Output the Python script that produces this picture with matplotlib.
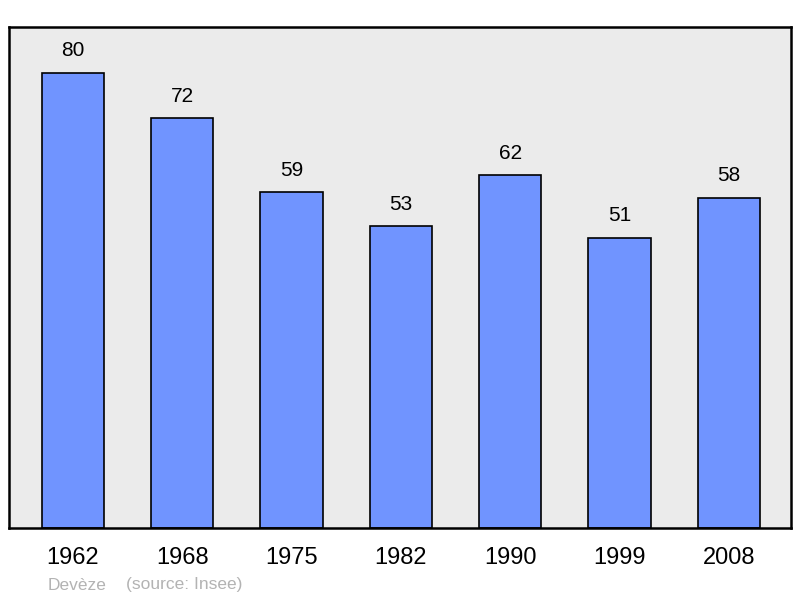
import matplotlib.pyplot as plt

years = ["1962", "1968", "1975", "1982", "1990", "1999", "2008"]
population = [80, 72, 59, 53, 62, 51, 58]

plt.rcParams["font.family"] = ["Liberation Sans", "DejaVu Sans"]

fig = plt.figure(figsize=(8, 5.98), dpi=100)
ax = fig.add_axes([9 / 800, 1 - 528 / 598, 782 / 800, 501 / 598])
ax.set_facecolor("#ebebeb")

x = range(len(years))
bars = ax.bar(x, population, width=0.57, color="#7094ff", edgecolor="black", linewidth=1.2, zorder=2)

for xi, v in zip(x, population):
    ax.annotate(str(v), (xi, v), xytext=(0, 22), textcoords="offset pixels",
                ha="center", va="center", fontsize=15)

ax.set_xlim(-0.585, 6.57)
ax.set_ylim(0, 88)
ax.set_xticks(list(x))
ax.set_xticklabels(years, fontsize=17)
ax.tick_params(axis="x", length=0, pad=14)
ax.set_yticks([])
for s in ax.spines.values():
    s.set_linewidth(1.8)

fig.text(48 / 800, 1 - 585 / 598, "Devèze", color="#b3b3b3", fontsize=12.5, va="center")
fig.text(126 / 800, 1 - 585 / 598, "(source: Insee)", color="#b3b3b3", fontsize=12.5, va="center")

fig.savefig("out.png", dpi=100)
